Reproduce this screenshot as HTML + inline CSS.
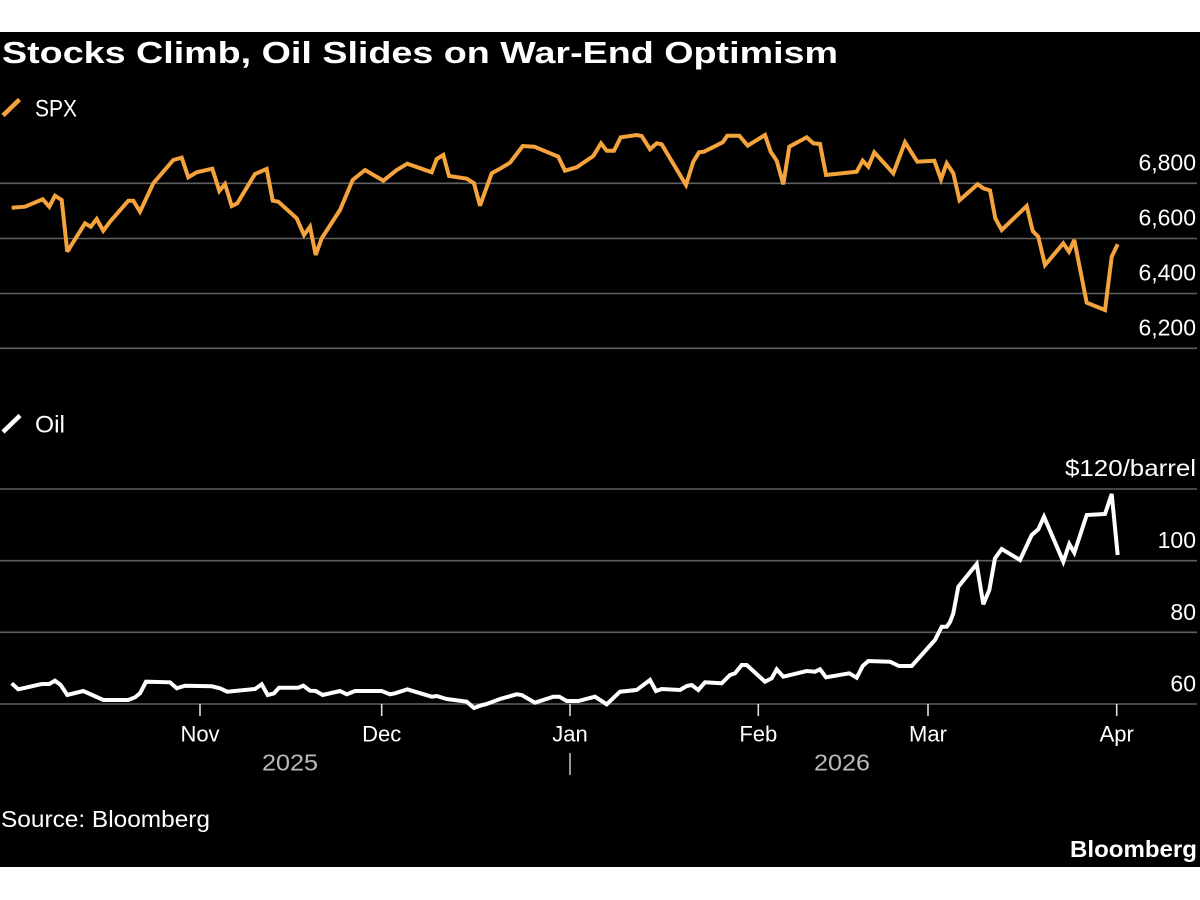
<!DOCTYPE html>
<html>
<head>
<meta charset="utf-8">
<style>
  html,body{margin:0;padding:0;background:#fff;}
  svg{display:block;}
  text{font-family:"Liberation Sans","DejaVu Sans",sans-serif;}
</style>
</head>
<body>
<svg width="1200" height="900" viewBox="0 0 1200 900" xmlns="http://www.w3.org/2000/svg">
  <rect x="0" y="0" width="1200" height="900" fill="#ffffff"/>
  <rect x="0" y="32" width="1200" height="835" fill="#000000"/>

  <!-- Title -->
  <text x="2" y="63" font-size="31" font-weight="bold" fill="#ffffff" textLength="836" lengthAdjust="spacingAndGlyphs">Stocks Climb, Oil Slides on War-End Optimism</text>

  <!-- SPX legend -->
  <line x1="3" y1="115.5" x2="19.5" y2="99.5" stroke="#f5a33c" stroke-width="4.5" stroke-linecap="butt"/>
  <text x="35" y="116.5" font-size="24" fill="#ffffff" textLength="42" lengthAdjust="spacingAndGlyphs">SPX</text>

  <!-- SPX grid -->
  <g stroke="#5f5f5f" stroke-width="1.6">
    <line x1="0" y1="183.3" x2="1197" y2="183.3"/>
    <line x1="0" y1="238.5" x2="1197" y2="238.5"/>
    <line x1="0" y1="293.5" x2="1197" y2="293.5"/>
    <line x1="0" y1="348.3" x2="1197" y2="348.3"/>
  </g>
  <g font-size="23" fill="#ffffff" text-anchor="end">
    <text x="1196" y="170.5">6,800</text>
    <text x="1196" y="225.5">6,600</text>
    <text x="1196" y="280.5">6,400</text>
    <text x="1196" y="335.5">6,200</text>
  </g>

  <!-- SPX series -->
  <polyline fill="none" stroke="#f5a33c" stroke-width="4" stroke-linejoin="miter" stroke-miterlimit="3"
    points="11.7,207.7 25,206.7 42.7,199.3 49.3,206.7 55,195.7 61.7,200 67.3,251.7 85,223.3 90.7,226.7 96.7,219 103.3,230.7 110,221.7 128.3,200.7 133.3,200.7 140,211.7 153.3,183.3 173.3,160 181.7,157.7 188.3,177.3 196.7,172.3 212.3,168.7 219.3,191 225,184 231.7,206 237.3,203.3 255,174 266.7,169 272.7,200.7 278.3,201.7 296.7,218.3 304,235 310,226.7 315.7,255 321.7,238.3 340,210 352.7,180 365,170 383.3,180.7 396.7,170 407.3,163.7 431.7,172.3 436.7,159 443.3,155 449,176 466.7,178.7 474,183.3 480,205.7 491.7,173.3 500,168.7 510,162.7 522.7,146 534.3,146.7 558.3,156.7 565,170.7 576.7,167.3 593.3,156 601,143.3 606.7,150.7 614,150.7 620.7,137.3 636.7,135 641.7,136 650,149.3 656.7,143.3 661.7,144.3 686,185 693.3,161.7 699,152.3 704,151.7 722.7,142.3 727.3,135.7 739.3,135.7 747.7,145.7 765,135 770.7,151.7 776.7,160.7 783.3,184.3 789.3,146.7 806.7,137.3 813.3,143.3 820,144 826,175 856.7,171.7 862.7,160.7 868.3,166.7 874.3,152.3 893.3,173.3 905,142.3 917.3,161.7 934.3,160.7 941,179.3 946.7,163.3 953.3,173.3 959.5,200.3 977.7,184.2 983.3,188.3 990,190.4 995.3,218.3 1001.7,230 1026.7,206 1032.7,231 1038.3,236.7 1045,265 1063.3,243.3 1069,251.7 1074.3,240 1086.7,302.7 1105,310 1111.7,256.7 1117.7,244.3"/>

  <!-- Oil legend -->
  <line x1="3" y1="432" x2="20" y2="415.5" stroke="#ffffff" stroke-width="4.5"/>
  <text x="35" y="432.7" font-size="24" fill="#ffffff" textLength="30" lengthAdjust="spacingAndGlyphs">Oil</text>

  <!-- Oil grid -->
  <g stroke="#5f5f5f" stroke-width="1.6">
    <line x1="0" y1="489" x2="1197" y2="489"/>
    <line x1="0" y1="560.7" x2="1197" y2="560.7"/>
    <line x1="0" y1="632.3" x2="1197" y2="632.3"/>
    <line x1="0" y1="704" x2="1197" y2="704"/>
  </g>
  <g font-size="23" fill="#ffffff" text-anchor="end">
    <text x="1196" y="476" textLength="131" lengthAdjust="spacingAndGlyphs">$120/barrel</text>
    <text x="1196" y="548">100</text>
    <text x="1196" y="620">80</text>
    <text x="1196" y="691.5">60</text>
  </g>

  <!-- Oil series -->
  <polyline fill="none" stroke="#ffffff" stroke-width="4" stroke-linejoin="miter" stroke-miterlimit="3"
    points="11.7,683.3 18.3,689.3 41.7,684 49.3,684 55,680.7 60.7,685 67.3,695 83.3,691 103.3,700 128.3,700 135,697.3 140,693.3 146,681.7 170,682.3 176.7,688.3 185,685.7 211.7,686.3 220,688.3 227.3,691.7 255,689 261.7,684.3 267.7,695 274,693.3 279,687.7 298.3,687.7 303.3,685.7 310,690.7 315.7,691 322.7,695 340,691 346.7,694.3 355,691 381.7,691 390,694.3 395,693.3 407.3,689.3 431.7,696.7 436.7,696 446.7,699 466.7,701.7 474,708 480,705.7 486.7,704 500,699 516.7,694.3 521.7,695 535,702.7 553.3,696.7 559.3,696.7 566.7,701 578.3,701 595,696.7 606.7,704.3 620,691.7 636.7,690 650,680 656,691 661.7,689 680,690 686.7,686 691.7,685 698.3,690 705,682.3 721.7,683.3 730,675 735,673.3 741.7,665 746.7,665 765,681.7 771.7,678.3 776.7,669.3 783.3,676.7 806.7,671 815,671.7 820,669.3 826,677.3 849.3,673.3 856.7,677.7 862.7,666 868.3,661 890,661.7 899,666 911.7,666 935,640 941.7,626.7 946.7,626.7 950,622 953.3,613.3 958.3,586.7 976.7,564 983.3,604.3 989.3,590 995,558.3 1001.7,549 1020,560 1031.7,535 1038.3,529.3 1044,516.7 1063.3,561.7 1069.3,544 1074.3,552.7 1086.7,515 1105,514 1111.7,494 1117.7,555"/>

  <!-- X axis ticks -->
  <g stroke="#dddddd" stroke-width="1.6">
    <line x1="200" y1="704" x2="200" y2="716"/>
    <line x1="381.7" y1="704" x2="381.7" y2="716"/>
    <line x1="570" y1="704" x2="570" y2="716"/>
    <line x1="758.3" y1="704" x2="758.3" y2="716"/>
    <line x1="928" y1="704" x2="928" y2="716"/>
    <line x1="1116.7" y1="704" x2="1116.7" y2="716"/>
    <line x1="570" y1="753" x2="570" y2="775" stroke="#bbbbbb"/>
  </g>
  <g font-size="22" fill="#ffffff" text-anchor="middle">
    <text x="200" y="741.5">Nov</text>
    <text x="381.7" y="741.5">Dec</text>
    <text x="570" y="741.5">Jan</text>
    <text x="758.3" y="741.5">Feb</text>
    <text x="928" y="741.5">Mar</text>
    <text x="1116.7" y="741.5">Apr</text>
  </g>
  <g font-size="23" fill="#bbbbbb" text-anchor="middle">
    <text x="290" y="770.5" textLength="56" lengthAdjust="spacingAndGlyphs">2025</text>
    <text x="842" y="770.5" textLength="56" lengthAdjust="spacingAndGlyphs">2026</text>
  </g>

  <!-- Footer -->
  <text x="1" y="827" font-size="23" fill="#ffffff" textLength="209" lengthAdjust="spacingAndGlyphs">Source: Bloomberg</text>
  <text x="1197" y="857" font-size="23" font-weight="bold" fill="#ffffff" text-anchor="end" textLength="127" lengthAdjust="spacingAndGlyphs">Bloomberg</text>
</svg>
</body>
</html>
